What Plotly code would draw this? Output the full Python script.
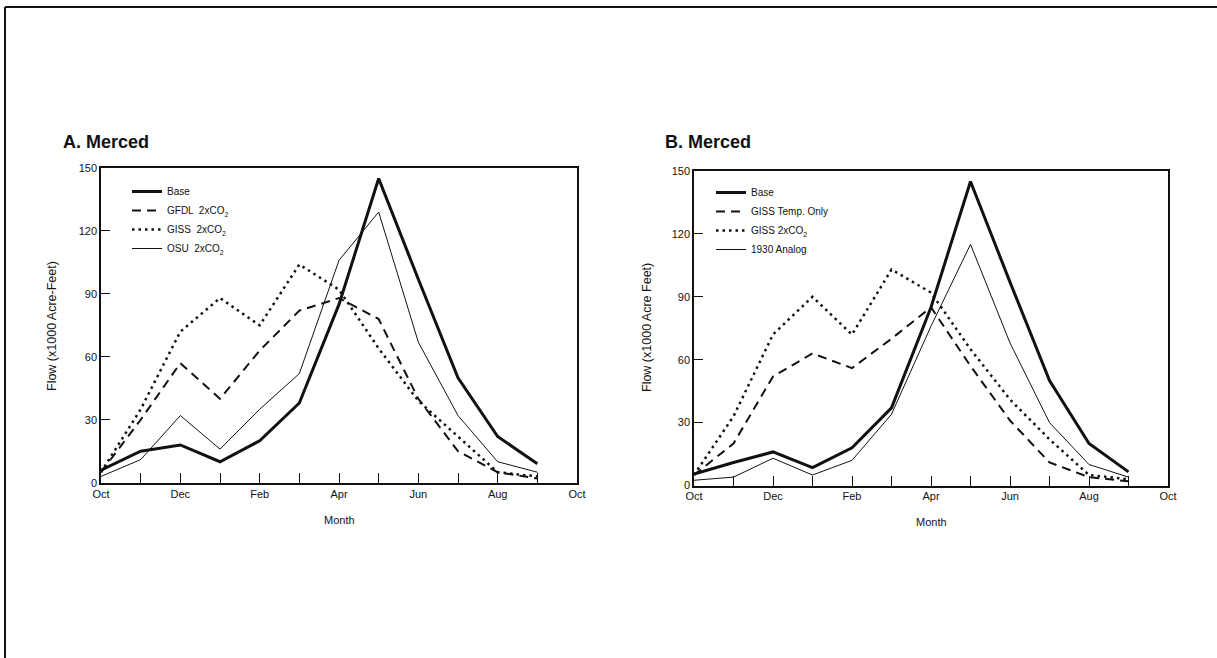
import plotly.graph_objects as go

W, H = 1217, 658

months = list(range(12))
tick_vals = [0, 2, 4, 6, 8, 10, 12]
tick_text = ["Oct", "Dec", "Feb", "Apr", "Jun", "Aug", "Oct"]
y_ticks = [0, 30, 60, 90, 120, 150]

# Panel A
a_base = [6, 15, 18, 10, 20, 38, 85, 145, 97, 50, 22, 9]
a_gfdl = [5, 30, 57, 40, 63, 82, 88, 78, 40, 15, 5, 2]
a_giss = [5, 35, 72, 88, 75, 104, 92, 64, 39, 22, 5, 3]
a_osu = [3, 11, 32, 16, 35, 52, 106, 129, 67, 32, 10, 5]

# Panel B
b_base = [5.5, 11, 16, 8.5, 18, 37, 85, 145, 97, 50, 20, 6.5]
b_temp = [5, 20, 52, 63, 56, 70, 85, 57, 31, 11, 4, 2]
b_giss = [5, 33, 72, 90, 72, 103, 92, 65, 41, 22, 5, 3]
b_1930 = [2.5, 4, 13, 5, 12, 34, 76, 115, 68, 30, 10, 4]

INK = "#111111"
DASH = "9px,6px"
DOT = "2.5px,4px"

fig = go.Figure()

def add(x, y, name, width, dash, xa, ya, legend):
    fig.add_trace(go.Scatter(
        x=x, y=y, name=name, mode="lines",
        line=dict(color=INK, width=width, dash=dash),
        xaxis=xa, yaxis=ya, legend=legend, hoverinfo="skip"))

add(months, a_base, "Base", 3, "solid", "x", "y", "legend")
add(months, a_gfdl, "GFDL  2xCO<sub>2</sub>", 2, DASH, "x", "y", "legend")
add(months, a_giss, "GISS  2xCO<sub>2</sub>", 2.5, DOT, "x", "y", "legend")
add(months, a_osu, "OSU  2xCO<sub>2</sub>", 1, "solid", "x", "y", "legend")

add(months, b_base, "Base", 3, "solid", "x2", "y2", "legend2")
add(months, b_temp, "GISS Temp. Only", 2, DASH, "x2", "y2", "legend2")
add(months, b_giss, "GISS 2xCO<sub>2</sub>", 2.5, DOT, "x2", "y2", "legend2")
add(months, b_1930, "1930 Analog", 1, "solid", "x2", "y2", "legend2")

def px(x):
    return x / W

def py(y):
    return 1 - y / H

font = "Liberation Sans, Arial, sans-serif"

xcommon = dict(range=[0, 12], tickmode="array", tickvals=tick_vals, ticktext=tick_text,
               ticks="inside", ticklen=10, tickwidth=1.3, tickcolor=INK,
               minor=dict(tick0=0, dtick=1, ticks="inside", ticklen=10,
                          tickwidth=1.3, tickcolor=INK, showgrid=False),
               showline=True, linecolor=INK, linewidth=1.5, mirror=True,
               showgrid=False, zeroline=False, automargin=False,
               tickfont=dict(family=font, size=11, color=INK))
ycommon = dict(range=[0, 150], tickvals=y_ticks,
               ticks="inside", ticklen=9, tickwidth=1.3, tickcolor=INK,
               showline=True, linecolor=INK, linewidth=1.5, mirror=True,
               showgrid=False, zeroline=False, automargin=False,
               tickfont=dict(family=font, size=11, color=INK))

legend_common = dict(font=dict(family=font, size=10, color=INK),
                     bgcolor="rgba(0,0,0,0)", borderwidth=0,
                     xanchor="left", yanchor="top", tracegroupgap=0,
                     itemwidth=30)

fig.update_layout(
    width=W, height=H,
    margin=dict(l=0, r=0, t=0, b=0),
    paper_bgcolor="white", plot_bgcolor="white",
    showlegend=True,
    xaxis=dict(domain=[px(101), px(577)], anchor="y", **xcommon),
    yaxis=dict(domain=[py(482.7), py(168)], anchor="x", **ycommon),
    xaxis2=dict(domain=[px(694), px(1168)], anchor="y2", **xcommon),
    yaxis2=dict(domain=[py(485.5), py(171)], anchor="x2", **ycommon),
    legend=dict(x=px(127), y=py(177), **legend_common),
    legend2=dict(x=px(711), y=py(178), **legend_common),
    shapes=[
        dict(type="line", xref="paper", yref="paper", x0=px(5), x1=1,
             y0=py(7), y1=py(7), line=dict(color=INK, width=2)),
        dict(type="line", xref="paper", yref="paper", x0=px(5), x1=px(5),
             y0=py(7), y1=0, line=dict(color=INK, width=2)),
    ],
    annotations=[
        dict(text="<b>A. Merced</b>", x=px(61), y=py(142), xref="paper", yref="paper",
             xanchor="left", yanchor="middle", showarrow=False,
             font=dict(family=font, size=18, color=INK)),
        dict(text="<b>B. Merced</b>", x=px(663), y=py(142), xref="paper", yref="paper",
             xanchor="left", yanchor="middle", showarrow=False,
             font=dict(family=font, size=18, color=INK)),
        dict(text="Flow (x1000 Acre-Feet)", x=px(52), y=py(326), xref="paper", yref="paper",
             textangle=-90, showarrow=False, xanchor="center", yanchor="middle",
             font=dict(family=font, size=12.5, color=INK)),
        dict(text="Flow (x1000 Acre Feet)", x=px(647), y=py(328), xref="paper", yref="paper",
             textangle=-90, showarrow=False, xanchor="center", yanchor="middle",
             font=dict(family=font, size=12.5, color=INK)),
        dict(text="Month", x=px(339), y=py(520), xref="paper", yref="paper",
             showarrow=False, xanchor="center", yanchor="middle",
             font=dict(family=font, size=11, color=INK)),
        dict(text="Month", x=px(931), y=py(522), xref="paper", yref="paper",
             showarrow=False, xanchor="center", yanchor="middle",
             font=dict(family=font, size=11, color=INK)),
    ],
)

fig.write_html("out.html")
